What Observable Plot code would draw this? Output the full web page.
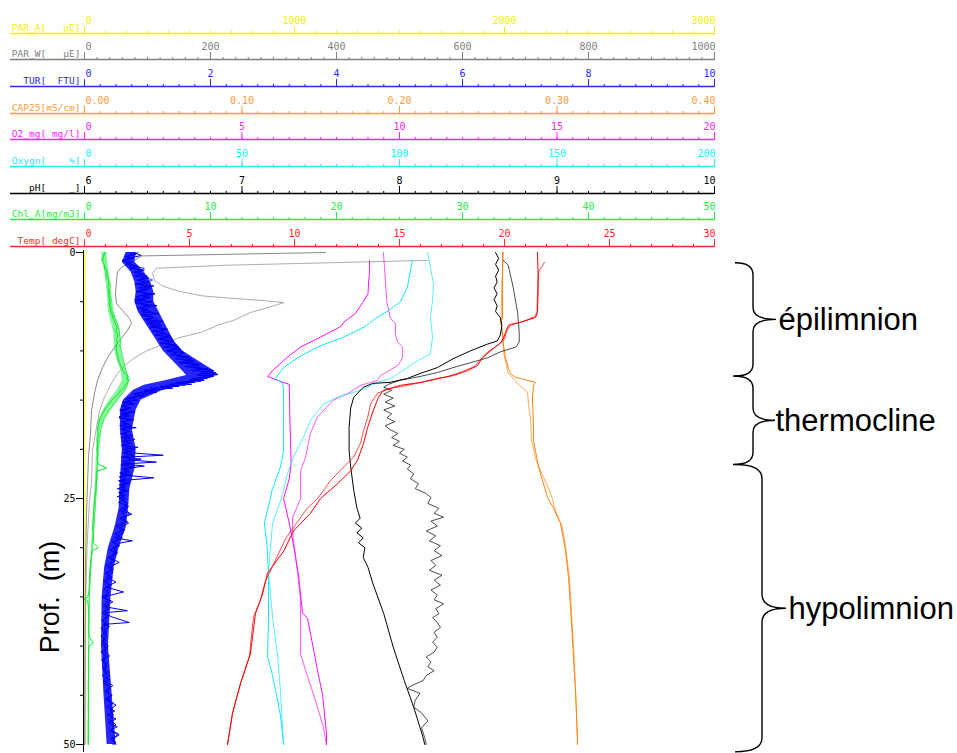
<!DOCTYPE html>
<html><head><meta charset="utf-8">
<script src="https://cdn.jsdelivr.net/npm/d3@7"></script>
<script src="https://cdn.jsdelivr.net/npm/@observablehq/plot@0.6"></script>
<style>
html,body{margin:0;padding:0;background:#fff;}
#chart{position:relative;width:957px;height:753px;overflow:hidden;background:#fff;}
#chart svg{position:absolute;left:0;top:0;}
</style></head><body><div id="chart"></div>
<script>
// ---------- tick labels ----------
const parATicks = [0, 1000, 2000, 3000];
const parWTicks = [0, 200, 400, 600, 800, 1000];
const turTicks = [0, 2, 4, 6, 8, 10];
const capTicks = [0, 0.1, 0.2, 0.3, 0.4];
const o2Ticks = [0, 5, 10, 15, 20];
const oxyTicks = [0, 50, 100, 150, 200];
const phTicks = [6, 7, 8, 9, 10];
const chlTicks = [0, 10, 20, 30, 40, 50];
const tempTicks = [0, 5, 10, 15, 20, 25, 30];
const depthTicks = [0, 25, 50];
const depthLabel = "Prof.  (m)";

// ---------- profiles: [depth m, value] ----------
const parA = [[0,3],[10,2.5],[20,2],[30,2],[40,2],[50,2]];

const parWA = [[0,382.5],[0.35,90],[1.0,74.6],[1.5,58.7],[2,52.4],[2.85,50.8],[4.2,49.2],[5.2,50.8],[5.9,60.3],[6.7,71.4],[7.2,74.6],[7.9,68.3],[8.7,58.7],[9.65,47.6],[10.7,36.5],[11.7,28.6],[13,20.6],[14.3,15.9],[16.1,11.1],[18.4,9.5],[20.8,6.3],[23.5,4.8],[27,3],[32,1.5],[40,0.8],[50,0.5]];
const parWB = [[0.8,544.4],[1.3,222.2],[1.6,114.3],[2.1,107.9],[2.85,111.1],[3.4,123.8],[3.9,147.6],[4.4,185.7],[4.6,222.2],[4.9,287.3],[5.1,315.9],[5.6,290.5],[6.1,263.5],[6.9,236.5],[7.4,211.1],[8.1,185.7],[8.7,147.6],[9.4,122.2],[9.95,100],[10.7,79.4],[11.5,63.5],[12.3,52.4],[13.3,42.9],[14.7,31.7],[16.1,23.8],[17.8,19],[20.1,12.7],[23.5,11.1],[25.2,7.9],[30,4],[35,2],[42,1],[50,0.5]];

// turbidity: band extent [depth, low, high] and three noisy casts
const turBand = [[0,0.66,0.82],[1,0.6,0.8],[2,0.74,0.95],[3,0.8,1.05],[4,0.82,1.1],[5,0.8,1.1],[6,0.85,1.18],[7,0.95,1.26],[8,1.05,1.34],[9,1.15,1.42],[10,1.25,1.56],[11,1.4,1.8],[12,1.55,2.05],[12.5,1.62,2.08],[13,1.3,1.88],[13.5,0.95,1.55],[14,0.78,1.25],[15,0.62,0.9],[16,0.57,0.82],[18,0.57,0.76],[20,0.6,0.82],[22,0.58,0.8],[24,0.56,0.72],[26,0.55,0.7],[28,0.48,0.66],[30,0.38,0.55],[32,0.32,0.47],[35,0.28,0.42],[40,0.27,0.38],[45,0.31,0.44],[50,0.36,0.5]];
const turA = [[0,0.78],[0.3,0.9],[0.6,0.7],[0.9,0.62],[1.2,0.75],[1.5,0.72],[1.8,0.9],[2.1,0.85],[2.4,1.0],[2.7,0.9],[3.0,1.02],[3.3,0.88],[3.6,1.05],[3.9,0.85],[4.2,1.0],[4.5,0.82],[4.8,0.95],[5.1,0.8],[5.4,1.0],[5.7,0.88],[6.0,1.05],[6.3,0.9],[6.6,1.1],[6.9,0.98],[7.2,1.2],[7.5,1.05],[7.8,1.3],[8.1,1.15],[8.4,1.35],[8.7,1.2],[9.0,1.42],[9.3,1.28],[9.6,1.5],[9.9,1.35],[10.2,1.58],[10.5,1.45],[10.8,1.7],[11.1,1.55],[11.4,1.85],[11.7,1.7],[12.0,2.05],[12.2,1.85],[12.4,2.12],[12.6,1.9],[12.8,1.95],[13.0,1.65],[13.2,1.75],[13.4,1.35],[13.6,1.5],[13.8,1.05],[14.0,1.1],[14.3,0.8],[14.6,0.85],[14.9,0.65],[15.2,0.75],[15.5,0.6],[15.8,0.72],[16.1,0.58],[16.4,0.7],[16.7,0.55],[17.0,0.72],[17.3,0.6],[17.6,0.75],[17.9,0.58],[18.2,0.7],[18.5,0.6],[18.8,0.72],[19.1,0.62],[19.4,0.75],[19.7,0.6],[20.0,0.8],[20.3,0.62],[20.6,1.25],[20.8,0.65],[21.1,0.75],[21.3,1.14],[21.5,0.6],[21.7,0.95],[22.0,0.62],[22.3,0.72],[22.6,0.58],[22.9,1.1],[23.2,0.55],[23.5,0.68],[23.8,0.58],[24.1,0.66],[24.4,0.55],[24.7,0.65],[25.0,0.55],[25.5,0.68],[26,0.6],[26.5,0.72],[27,0.62],[27.5,0.7],[28,0.55],[28.5,0.62],[29,0.48],[29.3,0.76],[29.5,0.58],[30,0.45],[30.5,0.52],[31,0.4],[31.5,0.55],[32,0.38],[32.5,0.45],[33,0.35],[33.5,0.5],[34,0.34],[34.5,0.62],[35,0.3],[35.5,0.45],[36,0.32],[36.4,0.68],[36.6,0.33],[37,0.42],[37.6,0.71],[37.8,0.3],[38,0.4],[38.5,0.28],[39,0.36],[39.5,0.28],[40,0.38],[40.5,0.3],[41,0.4],[41.5,0.28],[42,0.36],[42.5,0.3],[43,0.4],[43.5,0.3],[44,0.45],[44.5,0.35],[45,0.42],[45.5,0.36],[46,0.5],[46.5,0.4],[47,0.46],[47.5,0.4],[48,0.5],[48.5,0.42],[49,0.55],[49.5,0.44],[50,0.5]];
const turB = [[0,0.85],[0.4,0.65],[0.8,0.72],[1.2,0.65],[1.6,0.95],[2.0,0.8],[2.4,0.92],[2.8,1.08],[3.2,0.9],[3.6,0.98],[4.0,0.88],[4.4,1.05],[4.8,0.85],[5.2,0.92],[5.6,1.02],[6.0,0.92],[6.4,1.0],[6.8,1.15],[7.2,1.05],[7.6,1.2],[8.0,1.25],[8.4,1.22],[8.8,1.4],[9.2,1.32],[9.6,1.42],[10.0,1.55],[10.4,1.5],[10.8,1.62],[11.2,1.75],[11.6,1.8],[12.0,1.9],[12.3,2.1],[12.5,1.8],[12.7,2.0],[12.9,1.7],[13.1,1.85],[13.3,1.5],[13.5,1.6],[13.7,1.2],[13.9,1.25],[14.1,0.95],[14.4,1.0],[14.7,0.75],[15.0,0.7],[15.4,0.62],[15.8,0.66],[16.2,0.62],[16.6,0.68],[17.0,0.6],[17.4,0.66],[17.8,0.64],[18.2,0.62],[18.6,0.68],[19.0,0.66],[19.4,0.62],[19.8,0.7],[20.2,0.68],[20.6,0.66],[21.0,0.74],[21.4,0.68],[21.8,0.64],[22.2,0.68],[22.6,0.62],[23,0.65],[23.4,0.6],[23.8,0.64],[24.2,0.58],[24.6,0.62],[25,0.6],[25.5,0.64],[26,0.66],[26.5,0.6],[27,0.66],[27.5,0.58],[28,0.6],[28.5,0.54],[29,0.55],[29.5,0.5],[30,0.5],[30.5,0.46],[31,0.46],[31.5,0.42],[32,0.44],[32.5,0.38],[33,0.4],[33.5,0.36],[34,0.38],[35,0.34],[35.5,0.36],[36,0.35],[36.5,0.32],[37,0.34],[37.5,0.33],[38,0.32],[39,0.33],[39.5,0.3],[40,0.32],[40.5,0.34],[41,0.31],[42,0.33],[42.5,0.32],[43,0.35],[43.5,0.33],[44,0.37],[45,0.38],[45.5,0.4],[46,0.42],[47,0.43],[47.5,0.45],[48,0.44],[49,0.47],[49.5,0.46],[50,0.48]];
const turC = [[0,0.7],[0.2,0.82],[0.4,0.66],[0.6,0.78],[0.8,0.6],[1.0,0.74],[1.2,0.66],[1.4,0.86],[1.6,0.72],[1.8,0.95],[2.0,0.78],[2.2,0.92],[2.4,0.8],[2.6,1.02],[2.8,0.84],[3.0,0.96],[3.2,0.8],[3.4,1.1],[3.6,0.86],[3.8,1.0],[4.0,0.82],[4.2,1.12],[4.4,0.9],[4.6,1.04],[4.8,0.8],[5.0,1.08],[5.2,0.86],[5.4,1.15],[5.6,0.84],[5.8,1.0],[6.0,0.9],[6.2,1.18],[6.4,0.92],[6.6,1.08],[6.8,0.96],[7.0,1.25],[7.2,1.0],[7.4,1.22],[7.6,1.05],[7.8,1.32],[8.0,1.08],[8.2,1.28],[8.4,1.12],[8.6,1.38],[8.8,1.16],[9.0,1.35],[9.2,1.2],[9.4,1.46],[9.6,1.25],[9.8,1.52],[10.0,1.3],[10.2,1.48],[10.4,1.38],[10.6,1.65],[10.8,1.45],[11.0,1.75],[11.2,1.5],[11.4,1.8],[11.6,1.6],[11.8,1.95],[12.0,1.7],[12.2,2.08],[12.4,1.78],[12.6,2.05],[12.8,1.7],[13.0,1.9],[13.2,1.45],[13.4,1.7],[13.6,1.2],[13.8,1.4],[14.0,0.95],[14.2,1.15],[14.4,0.78],[14.6,0.95],[14.8,0.7],[15.0,0.85],[15.2,0.6],[15.4,0.8],[15.6,0.58],[15.8,0.74],[16.0,0.56],[16.2,0.8],[16.4,0.58],[16.6,0.72],[16.8,0.55],[17.0,0.78],[17.2,0.58],[17.4,0.7],[17.6,0.56],[17.8,0.82],[18.0,0.6],[18.2,0.72],[18.4,0.57],[18.6,0.76],[18.8,0.58],[19.0,0.8],[19.2,0.6],[19.4,0.7],[19.6,0.58],[19.8,0.85],[20.0,0.6],[20.2,0.74],[20.4,0.6],[20.6,0.78],[20.8,0.58],[21.0,0.9],[21.2,0.6],[21.4,0.72],[21.6,0.58],[21.8,0.8],[22.0,0.6],[22.2,0.7],[22.4,0.56],[22.6,0.75],[22.8,0.55],[23.0,0.66],[23.2,0.54],[23.4,0.72],[23.6,0.55],[23.8,0.64],[24.0,0.52],[24.2,0.7],[24.4,0.54],[24.6,0.62],[24.8,0.52],[25.0,0.66],[25.4,0.54],[25.8,0.7],[26.2,0.55],[26.6,0.75],[27.0,0.56],[27.4,0.68],[27.8,0.5],[28.2,0.64],[28.6,0.48],[29.0,0.6],[29.4,0.44],[29.8,0.56],[30.2,0.4],[30.6,0.52],[31.0,0.38],[31.4,0.48],[31.8,0.34],[32.2,0.46],[32.6,0.33],[33.0,0.44],[33.4,0.3],[33.8,0.42],[34.2,0.3],[34.6,0.4],[35.0,0.28],[35.4,0.42],[35.8,0.3],[36.2,0.4],[36.6,0.28],[37.0,0.38],[37.4,0.27],[37.8,0.36],[38.2,0.26],[38.6,0.35],[39.0,0.26],[39.4,0.34],[39.8,0.27],[40.2,0.35],[40.6,0.26],[41.0,0.34],[41.4,0.27],[41.8,0.36],[42.2,0.28],[42.6,0.38],[43.0,0.28],[43.4,0.4],[43.8,0.3],[44.2,0.42],[44.6,0.32],[45.0,0.44],[45.4,0.33],[45.8,0.46],[46.2,0.35],[46.6,0.48],[47.0,0.36],[47.4,0.5],[47.8,0.38],[48.2,0.52],[48.6,0.4],[49.0,0.54],[49.4,0.42],[49.8,0.5],[50,0.45]];

const capA = [[0,0.2654],[3,0.2654],[6.7,0.2654],[7,0.2641],[8.1,0.2654],[9.4,0.266],[10.7,0.2673],[11.8,0.2692],[12.3,0.2705],[12.7,0.2737],[12.8,0.2768],[13,0.2813],[13.2,0.2863],[13.5,0.2851],[14.8,0.2844],[17.6,0.2851],[19.1,0.2851],[21.8,0.2883],[23.5,0.2914],[24.9,0.294],[26,0.2978],[27.5,0.3022],[30.3,0.3054],[33,0.3073],[36,0.3086],[41.2,0.3105],[44.5,0.3117],[49.3,0.313],[50,0.313]];
const capB = [[0,0.266],[3,0.265],[6,0.2646],[7.5,0.2648],[9,0.2656],[10.5,0.2665],[11.5,0.268],[12.2,0.2686],[12.7,0.2717],[13.5,0.276],[14.2,0.2813],[15.5,0.2819],[16.9,0.2832],[19,0.2838],[21,0.2865],[22.5,0.2905],[24,0.2946],[25,0.2971],[26,0.2985],[28,0.3035],[30.3,0.3058],[33,0.3078],[36,0.309],[41,0.3108],[45,0.312],[50,0.313]];

const o2A = [[0.8,9.05],[2,9.05],[3,9.02],[4.2,9.0],[5,8.85],[6.2,8.6],[7.1,8.22],[7.5,8.15],[8.6,7.49],[9.6,6.86],[10.8,6.38],[12,5.97],[12.6,5.81],[13.2,6.3],[13.4,6.5],[15,6.51],[17,6.52],[19,6.54],[21.5,6.56],[23,6.5],[25,6.32],[27.5,6.5],[30,6.65],[33,6.8],[36.6,6.92],[37.2,7.08],[40,7.25],[42.5,7.4],[45,7.56],[48.8,7.68],[50,7.68]];
const o2B = [[0,9.49],[3.2,9.56],[5,9.6],[6.7,9.71],[7.2,9.87],[8.3,9.87],[9.1,9.94],[9.6,10.1],[10.7,10.1],[11.5,9.94],[12.5,9.4],[13,9.3],[13.5,8.76],[14.2,8.44],[15,7.9],[16.7,7.4],[18.4,7.17],[20.8,7.02],[22.2,6.86],[25,6.86],[27,6.6],[29,6.62],[32,6.75],[35,6.85],[37.7,6.86],[40.8,6.86],[42.5,7.02],[45.5,7.33],[48.3,7.59],[50,7.68]];

const oxyA = [[0.8,104.1],[3.5,102.5],[5,100.3],[5.9,96.5],[6.7,92.4],[7.5,89.2],[8.6,82.2],[9.6,74],[10.7,67.6],[11.7,63.2],[12.8,60.6],[13.3,62.9],[14,63.2],[17,63.2],[20.1,63.2],[21.8,62.2],[24.2,59.5],[25,59],[27.5,57.1],[30,58],[32.6,58.4],[37.7,58.4],[41,58.1],[43,59.7],[47,62.2],[50,63.2]];
const oxyB = [[0,108.9],[3.2,110.8],[4.9,110.5],[6.6,109.8],[8.6,110.5],[10.3,109.8],[11,105.7],[11.7,102.5],[12.8,97.1],[13.2,93],[14,87.6],[14.7,80.3],[15.4,75.9],[17.1,71.7],[18.8,69.5],[20.8,66.3],[22.5,64.4],[24.5,62.9],[25,62.5],[27.5,59.7],[32.6,58.4],[37,59.7],[41,61.3],[44.5,62.2],[50,63.2]];

const phA = [[0,8.61],[0.6,8.63],[1.2,8.61],[1.8,8.63],[2.4,8.61],[3,8.62],[3.6,8.6],[4.2,8.62],[4.8,8.6],[5.4,8.62],[6,8.61],[6.6,8.64],[7.4,8.65],[8.4,8.64],[9,8.62],[9.3,8.56],[10,8.45],[10.8,8.34],[11.7,8.24],[12.3,8.13],[12.8,8.05],[13.2,7.94],[13.3,7.83],[13.7,7.77],[14.7,7.71],[15.8,7.69],[17.8,7.68],[20.1,7.68],[21.8,7.69],[24.2,7.71],[26,7.73],[27,7.75],[27.5,7.72],[28,7.76],[28.5,7.73],[29,7.77],[29.5,7.74],[30,7.78],[31,7.77],[32,7.8],[33.6,7.83],[36.7,7.9],[40.1,7.96],[43.5,8.03],[46.2,8.09],[49.3,8.15],[50,8.16]];
const phB = [[0.8,8.66],[1.3,8.69],[3.4,8.72],[6.1,8.75],[8.1,8.76],[9.1,8.76],[9.6,8.74],[10.1,8.64],[10.7,8.56],[11.2,8.45],[11.7,8.34],[12.2,8.24],[12.6,8.13],[13,8.0],[13.4,7.93],[13.7,7.9],[14,7.95],[14.4,7.9],[14.8,7.96],[15.2,7.91],[15.6,7.97],[16,7.9],[16.4,7.95],[16.8,7.92],[17.2,7.97],[17.6,7.91],[18,7.94],[18.4,7.99],[18.8,7.95],[19.2,8.0],[19.6,7.96],[20,8.03],[20.4,8.0],[20.8,8.05],[21.2,8.02],[21.6,8.07],[22,8.05],[22.5,8.09],[23,8.07],[23.5,8.12],[24,8.1],[24.5,8.17],[24.9,8.2],[25.5,8.18],[26,8.25],[26.5,8.22],[26.9,8.28],[27.3,8.2],[27.8,8.24],[28.3,8.17],[28.8,8.23],[29.3,8.19],[29.8,8.26],[30.3,8.22],[30.8,8.27],[31.3,8.2],[31.8,8.23],[32.3,8.19],[32.8,8.27],[33.3,8.22],[33.8,8.26],[34.3,8.2],[34.8,8.24],[35.3,8.22],[35.7,8.28],[36.2,8.23],[36.7,8.25],[37.1,8.21],[37.6,8.24],[38.1,8.26],[38.6,8.22],[39.1,8.24],[39.6,8.21],[40.1,8.24],[40.6,8.22],[41.1,8.17],[41.6,8.2],[42.1,8.18],[42.5,8.22],[43,8.17],[43.5,8.15],[44,8.08],[44.3,8.05],[44.8,8.13],[45.5,8.1],[46.2,8.09],[46.8,8.14],[47.6,8.18],[48.3,8.14],[49.3,8.16],[50,8.17]];

// chlorophyll: band extent [depth, low, high] and two casts
const chlBand = [[0,1.35,1.75],[2,1.6,1.95],[4,1.8,2.15],[6,1.9,2.35],[8,2.3,2.85],[10,2.4,2.95],[11,2.6,3.1],[12,2.9,3.35],[13,3.0,3.6],[14,2.6,3.3],[15,2.0,2.7],[16,1.5,2.1],[17,1.15,1.6],[18,1.0,1.35],[20,0.95,1.15],[22,0.9,1.1],[25,0.78,0.95],[28,0.65,0.8],[30,0.55,0.68],[35,0.35,0.45],[40,0.32,0.38],[50,0.28,0.33]];
const chlA = [[0,1.6],[0.4,1.45],[0.8,1.35],[1.2,1.55],[1.6,1.6],[2.0,1.75],[2.4,1.7],[2.8,1.9],[3.2,1.95],[3.6,1.85],[4.0,2.0],[4.4,1.9],[4.8,2.0],[5.2,1.95],[5.6,2.1],[6.0,2.05],[6.4,2.2],[6.8,2.3],[7.2,2.45],[7.6,2.6],[8.0,2.5],[8.4,2.65],[8.8,2.55],[9.2,2.6],[9.6,2.5],[10.0,2.55],[10.4,2.6],[10.8,2.7],[11.2,2.75],[11.6,2.9],[12.0,3.05],[12.3,3.2],[12.6,3.5],[12.8,3.3],[13.0,3.55],[13.3,3.3],[13.6,3.2],[13.9,3.0],[14.2,2.75],[14.5,2.6],[14.8,2.3],[15.1,2.1],[15.4,1.95],[15.7,1.7],[16.0,1.6],[16.4,1.4],[16.8,1.25],[17.2,1.15],[17.6,1.1],[18,1.05],[18.5,1.1],[19,1.0],[19.5,1.05],[20,0.98],[20.5,1.05],[21,1.0],[21.5,1.1],[21.9,1.75],[22.2,1.0],[22.6,0.95],[23,1.0],[23.5,0.9],[24,0.92],[24.5,0.85],[25,0.8],[26,0.75],[27,0.7],[27.5,0.65],[28.5,0.68],[29.5,0.7],[30,1.1],[30.3,0.6],[31,0.55],[31.6,0.48],[32.5,0.42],[33.5,0.4],[34.5,0.35],[35,0.25],[35.2,-0.05],[35.4,0.25],[36,0.3],[37,0.35],[38,0.33],[39,0.36],[39.7,0.7],[40,0.35],[41,0.32],[42,0.33],[43,0.32],[44,0.3],[45,0.32],[46,0.3],[47,0.32],[48,0.3],[49,0.31],[50,0.3]];
const chlB = [[0,1.7],[0.5,1.5],[1,1.45],[1.5,1.65],[2,1.8],[2.5,1.85],[3,2.0],[3.5,2.05],[4,1.9],[4.5,2.05],[5,2.1],[5.5,2.0],[6,2.2],[6.5,2.35],[7,2.55],[7.5,2.7],[8,2.75],[8.5,2.8],[9,2.9],[9.5,2.8],[10,2.95],[10.5,3.0],[11,3.1],[11.5,3.2],[12,3.3],[12.5,3.4],[13,3.45],[13.5,3.4],[14,3.2],[14.5,2.9],[15,2.6],[15.5,2.3],[16,2.0],[16.5,1.75],[17,1.55],[17.5,1.4],[18,1.3],[18.5,1.25],[19,1.2],[19.5,1.15],[20,1.1],[21,1.05],[22,1.0],[23,0.98],[24,0.95],[25,0.9],[26,0.85],[27,0.8],[28,0.75],[29,0.7],[30,0.62],[31,0.55],[32,0.5],[33,0.45],[34,0.42],[35,0.4],[36,0.38],[37,0.36],[38,0.35],[40,0.34],[42,0.33],[44,0.32],[46,0.32],[48,0.31],[50,0.3]];

const tempA = [[0,21.57],[2,21.6],[4,21.6],[6.1,21.57],[6.6,21.48],[7.1,20.76],[7.4,20.19],[8.1,20.05],[8.7,19.95],[9.2,19.81],[10,19.33],[10.7,18.95],[11.5,18.71],[12,18.24],[12.5,17.57],[12.8,16.81],[13.2,16.0],[13.5,15.05],[14,14.24],[14.7,14.0],[16,13.76],[17.8,13.48],[19.4,13.29],[21.1,13.0],[22.2,12.67],[23.5,12.05],[25,11.24],[26.5,10.76],[28.3,9.95],[30.3,9.5],[32.6,8.71],[34.7,8.48],[36.7,8.14],[40.8,7.9],[43.8,7.43],[46.8,7.05],[50,6.81]];
const tempB = [[1,21.9],[2,21.62],[4,21.57],[6,21.55],[6.5,21.45],[7,20.9],[7.3,20.3],[8,20.1],[8.8,20.0],[9.4,19.7],[10.1,19.2],[10.9,18.85],[11.6,18.55],[12.1,18.0],[12.6,17.3],[13,16.5],[13.4,15.6],[13.8,14.6],[14.3,13.95],[15.4,13.62],[16.8,13.48],[18.1,13.29],[19.4,13.14],[20.8,12.81],[21.4,12.52],[23.2,11.71],[25,11.1],[26,10.6],[27.5,10.1],[29,9.6],[31,9.15],[33.5,8.6],[35.5,8.35],[37,8.05],[39,7.95],[41,7.85],[43.8,7.43],[46.8,7.05],[50,6.81]];

const zones = [
  {name: "épilimnion", top: 1.1, bottom: 12.6},
  {name: "thermocline", top: 12.6, bottom: 21.6},
  {name: "hypolimnion", top: 21.6, bottom: 50.8}
];

// ---------- layout / style ----------
const W = 957, H = 753, ML = 84, MR = 243, MB = 9, Y0 = 252, YB = 744;
const rows = [33, 59, 86, 113, 139, 166, 193, 219, 246];
const mono = "DejaVu Sans Mono";
const braceShape = [
  {xL: 735, xS: 753, xT: 776, r: 12, tx: 778},
  {xL: 733, xS: 753, xT: 775, r: 12, tx: 775},
  {xL: 735, xS: 762, xT: 786, r: 14, tx: 788}
];
const intFmt = d3.format("d");
const axes = [
  {title: "PAR_A[   µE]", color: "#f2f200", line: "#ffff00", domain: [0, 3000], ticks: parATicks, step: 100, fmt: intFmt, series: [parA]},
  {title: "PAR_W[   µE]", color: "#808080", line: "#8a8a8a", domain: [0, 1000], ticks: parWTicks, step: 20, fmt: intFmt, series: [parWA, parWB]},
  {title: "TUR[  FTU]", color: "#2a2aff", line: "#0000f0", domain: [0, 10], ticks: turTicks, step: 0.25, fmt: intFmt, series: [turA, turB, turC], band: turBand, bandFill: "#0000ff", bandOpacity: 0.85},
  {title: "CAP25[mS/cm]", color: "#ff9a40", line: "#ff8410", domain: [0, 0.4], ticks: capTicks, step: 0.01, fmt: d3.format(".2f"), series: [capA, capB]},
  {title: "O2_mg[ mg/l]", color: "#ff22ff", line: "#ff10ff", domain: [0, 20], ticks: o2Ticks, step: 0.5, fmt: intFmt, series: [o2A, o2B]},
  {title: "Oxygn[    %]", color: "#22eeff", line: "#10e8ff", domain: [0, 200], ticks: oxyTicks, step: 5, fmt: intFmt, series: [oxyA, oxyB]},
  {title: "pH[    _]", color: "#000000", line: "#000000", domain: [6, 10], ticks: phTicks, step: 0.1, fmt: intFmt, series: [phA, phB]},
  {title: "Chl_A[mg/m3]", color: "#22ee44", line: "#10e830", domain: [0, 50], ticks: chlTicks, step: 1.25, fmt: intFmt, series: [chlA, chlB], band: chlBand, bandFill: "#33ee55", bandOpacity: 0.6},
  {title: "Temp[ degC]", color: "#ff2a2a", line: "#ff0000", domain: [0, 30], ticks: tempTicks, step: 1, fmt: intFmt, series: [tempA, tempB]}
];

const braceMark = (index, scales) => {
  const y = scales.y;
  const g = d3.create("svg:g").attr("fill", "none").attr("stroke", "black").attr("stroke-width", 1.4);
  zones.forEach((z, k) => {
    const {xL, xS, xT, r} = braceShape[k];
    const yT = y(z.top), yB = y(z.bottom), yM = (yT + yB) / 2;
    g.append("path").attr("d",
      `M${xL},${yT} Q${xS},${yT} ${xS},${yT + r} L${xS},${yM - r} Q${xS},${yM} ${xT},${yM} ` +
      `Q${xS},${yM} ${xS},${yM + r} L${xS},${yB - r} Q${xS},${yB} ${xL},${yB}`);
  });
  return g.node();
};

const chart = document.getElementById("chart");
axes.forEach((a, i) => {
  const mt = rows[i];
  const dTop = -50 * (Y0 - mt) / (YB - Y0);
  const [x0, x1] = a.domain;
  const n = Math.round((x1 - x0) / a.step);
  const minor = d3.range(n + 1).map(k => x0 + k * a.step);
  const ext = (x1 - x0) * (ML - 10) / (W - ML - MR);
  const txt = {frameAnchor: "top", dy: -10, lineAnchor: "bottom", fill: a.color, text: a.fmt, x: d => d, fontSize: 10};
  const marks = [
    Plot.ruleY([dTop], {x1: x0 - ext, x2: x1, stroke: a.color, strokeWidth: 1.6}),
    Plot.axisX({anchor: "top", ticks: minor, tickSize: 3, tickFormat: () => "", stroke: a.color, label: null}),
    Plot.axisX({anchor: "top", ticks: a.ticks, tickSize: 8, tickFormat: () => "", stroke: a.color, label: null}),
    Plot.text(a.ticks.slice(0, 1), {...txt, textAnchor: "start", dx: 1}),
    Plot.text(a.ticks.slice(1, -1), {...txt, textAnchor: "middle"}),
    Plot.text(a.ticks.slice(-1), {...txt, textAnchor: "end", dx: 1}),
    Plot.text([a.title], {text: d => d, frameAnchor: "top-left", dx: -4, dy: -3, textAnchor: "end", lineAnchor: "bottom", fill: a.color})
  ];
  if (a.band) marks.push(Plot.areaX(a.band, {y: d => d[0], x1: d => d[1], x2: d => d[2], fill: a.bandFill, fillOpacity: a.bandOpacity}));
  marks.push(...a.series.map((s, j) => Plot.line(s, {x: d => d[1], y: d => d[0], stroke: a.line, strokeOpacity: j === 1 ? 0.7 : 1, strokeWidth: 1})));
  const last = i === axes.length - 1;
  if (last) {
    marks.push(
      Plot.ruleX([x0], {y1: -0.2, y2: 50.8, dx: -1, stroke: "black"}),
      Plot.axisY({anchor: "left", ticks: d3.range(0, 51, 5), tickSize: 3, tickFormat: () => "", label: null, stroke: "black", dx: -1}),
      Plot.axisY({anchor: "left", ticks: depthTicks, tickSize: 7, tickPadding: 1, label: null, stroke: "black", fill: "black", fontSize: 10, dx: -1}),
      Plot.text([depthLabel], {text: d => d, frameAnchor: "left", y: () => 35, dx: -34, rotate: -90, textAnchor: "middle", fontFamily: "Liberation Sans", fontSize: 27, fill: "black"}),
      braceMark,
      ...zones.map((z, k) => Plot.text([z], {text: d => d.name, frameAnchor: "right", y: d => (d.top + d.bottom) / 2, dx: braceShape[k].tx - (W - MR), textAnchor: "start", fontFamily: "Liberation Sans", fontSize: 31, fill: "black"}))
    );
  }
  const svg = Plot.plot({
    width: W, height: H,
    marginLeft: ML, marginRight: MR, marginTop: mt, marginBottom: MB,
    x: {domain: a.domain},
    y: {domain: [dTop, 50], reverse: true, ...(last ? {} : {axis: null})},
    style: {fontFamily: mono, fontSize: "9.5px", background: "transparent", overflow: "visible"},
    marks
  });
  chart.appendChild(svg);
});
</script></body></html>
